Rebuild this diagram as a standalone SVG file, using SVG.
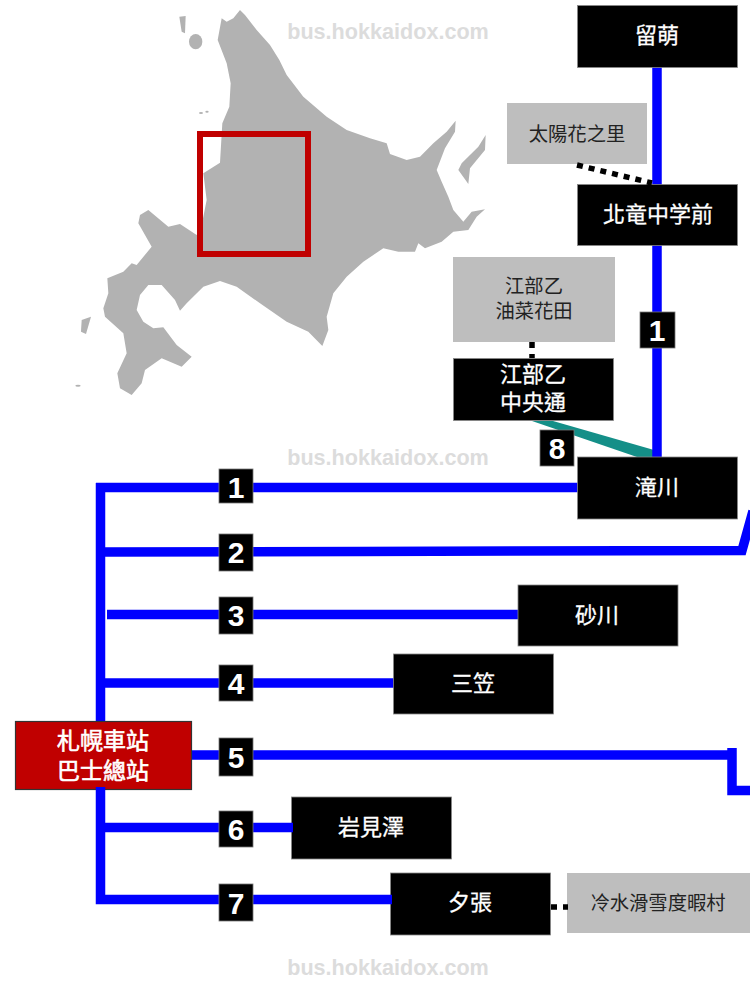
<svg xmlns="http://www.w3.org/2000/svg" width="750" height="988" viewBox="0 0 750 988">
<defs><filter id="soft" x="-5%" y="-5%" width="110%" height="110%"><feGaussianBlur stdDeviation="0.7"/></filter></defs>
<style>
.land{fill:#b2b2b2}
.wm{font:bold 21.6px "Liberation Sans",Arial,sans-serif;fill:#dcdcdc}
.line{fill:none;stroke:#0000ff;stroke-width:9.5}
.dot{fill:none;stroke:#000;stroke-width:5.5;stroke-dasharray:6 6}
.n{fill:#000;stroke:#888;stroke-width:.8}
.g{fill:#bebebe}
.r{fill:#c00000;stroke:#333;stroke-width:1.2}
.b{fill:#000;stroke:#777;stroke-width:.8}
text{text-anchor:middle;font-family:"Noto Sans CJK TC","Noto Sans CJK SC",sans-serif}
.tw{fill:#fff;font-size:22px;stroke:#fff;stroke-width:.3}
.tg{fill:#222;font-size:19.3px}
.tr{fill:#fff;font-size:23px;stroke:#fff;stroke-width:.6}
.num{fill:#fff;font:bold 30px "Liberation Sans",Arial,sans-serif;text-anchor:middle}
</style>
<g id="map">
<g transform="translate(70 0) scale(.33333)" filter="url(#soft)">
<path class="land" d="M510 30L525 45L560 90L600 135L628 180L650 225L700 290L770 350L830 390L900 415L950 430L960 462L1010 480L1050 470L1090 430L1130 395L1157 362L1155 395L1125 445L1100 510L1115 545L1135 590L1150 630L1180 665L1205 635L1245 628L1220 650L1195 690L1150 695L1115 725L1065 745L1045 730L1035 755L985 755L940 745L880 785L830 830L790 880L770 950L775 990L757 1038L715 995L650 965L570 910L500 860L450 843L400 860L350 910L330 932L315 900L275 855L235 855L210 885L200 930L220 965L250 985L280 982L320 1035L365 1070L335 1100L275 1075L225 1110L215 1150L185 1185L150 1165L142 1120L170 1060L160 1000L105 950L100 925L115 880L112 835L160 815L185 790L200 795L245 740L205 670L210 645L235 630L295 680L330 672L380 705L398 660L410 600L400 520L450 488L457 370L478 320L482 250L470 190L443 120L455 55L470 65L490 55Z"/>
<path class="land" d="M1247 405L1245 450L1200 505L1195 552L1165 510L1175 490L1225 440Z"/>
<path class="land" d="M328 50L347 48L345 100L335 95Z"/>
<ellipse class="land" cx="377" cy="125" rx="20" ry="23"/>
<path class="land" d="M35 960L63 950L48 1002L33 995Z"/>
<ellipse class="land" cx="393" cy="339" rx="6" ry="3"/>
<ellipse class="land" cx="411" cy="335" rx="5" ry="3"/>
<ellipse class="land" cx="24" cy="1157" rx="8" ry="3"/>
</g>
<rect x="200" y="134" width="108" height="120" fill="none" stroke="#c00000" stroke-width="6"/>
</g>
<g id="watermarks">
<text class="wm" x="388" y="39">bus.hokkaidox.com</text>
<text class="wm" x="388" y="465">bus.hokkaidox.com</text>
<text class="wm" x="388" y="975">bus.hokkaidox.com</text>
</g>
<g id="connectors">
<polygon points="532,421 553,421 654,450 654,457 637,457" fill="#148f88"/>
<path class="line" d="M657 66V186M657 244V458"/>
<path class="line" d="M100.500 483V722"/>
<path class="line" d="M96 487.500H580"/>
<path class="line" d="M105 552L360 551.500L742 550.500L753 511"/>
<path class="line" d="M107 614.500H520"/>
<path class="line" d="M105 683H395"/>
<path class="line" d="M190 755H732M732 748V790.500H750"/>
</g>
<g id="node-taiyo"><rect class="g" x="507" y="103" width="140" height="61"/><text class="tg" x="577" y="141">太陽花之里</text></g>
<g id="node-rumoi"><rect class="n" x="577.500" y="5.500" width="160" height="62"/><text class="tw" x="657" y="43">留萌</text></g>
<g id="node-hokuryu"><rect class="n" x="577.500" y="184.500" width="160" height="61"/><text class="tw" x="658" y="222">北竜中学前</text></g>
<g id="node-ebeotsu-field"><rect class="g" x="453" y="257" width="162" height="85"/><text class="tg"><tspan x="534" y="293">江部乙</tspan><tspan x="534" y="318">油菜花田</tspan></text></g>
<g id="node-ebeotsu"><rect class="n" x="453.500" y="358.500" width="160" height="62"/><text class="tw"><tspan x="533" y="382">江部乙</tspan><tspan x="533" y="410">中央通</tspan></text></g>
<g id="node-takikawa"><rect class="n" x="577.500" y="457" width="160" height="62"/><text class="tw" x="657" y="495">滝川</text></g>
<g id="node-sunagawa"><rect class="n" x="518" y="585" width="160" height="61"/><text class="tw" x="597" y="623">砂川</text></g>
<g id="node-mikasa"><rect class="n" x="393.500" y="654" width="160" height="60"/><text class="tw" x="473" y="691">三笠</text></g>
<g id="node-iwamizawa"><rect class="n" x="291.500" y="797" width="160" height="62"/><text class="tw" x="371" y="835">岩見澤</text></g>
<g id="node-yubari"><rect class="n" x="390.500" y="873" width="160" height="62"/><text class="tw" x="470" y="910">夕張</text></g>
<g id="node-resort"><rect class="g" x="567" y="873" width="183" height="60"/><text class="tg" x="658" y="910">冷水滑雪度暇村</text></g>
<g id="node-sapporo"><rect class="r" x="15.500" y="721.500" width="176" height="68"/><text class="tr"><tspan x="103" y="749">札幌車站</tspan><tspan x="103" y="779">巴士總站</tspan></text></g>
<g id="connectors-over">
<path class="line" d="M100.500 787V899.500H392"/>
<path class="line" d="M105 827.500H293"/>
<path class="dot" d="M577 165L652 183"/>
<path class="dot" d="M532 342V358"/>
<path class="dot" d="M551 907H568"/>
</g>
<g id="badge-1"><rect class="b" x="219" y="469" width="34" height="34"/><text class="num" x="236" y="498">1</text></g>
<g id="badge-2"><rect class="b" x="219" y="534" width="34" height="37"/><text class="num" x="236" y="563">2</text></g>
<g id="badge-3"><rect class="b" x="219" y="597" width="34" height="37"/><text class="num" x="236" y="626">3</text></g>
<g id="badge-4"><rect class="b" x="219" y="665" width="34" height="36"/><text class="num" x="236" y="694">4</text></g>
<g id="badge-5"><rect class="b" x="219" y="738" width="34" height="38"/><text class="num" x="236" y="768">5</text></g>
<g id="badge-6"><rect class="b" x="219" y="811" width="34" height="36"/><text class="num" x="236" y="840">6</text></g>
<g id="badge-7"><rect class="b" x="219" y="884" width="34" height="37"/><text class="num" x="236" y="914">7</text></g>
<g id="badge-1b"><rect class="b" x="640" y="312" width="35" height="36"/><text class="num" x="657" y="341">1</text></g>
<g id="badge-8"><rect class="b" x="540" y="430" width="34" height="36"/><text class="num" x="557" y="459">8</text></g>
</svg>
